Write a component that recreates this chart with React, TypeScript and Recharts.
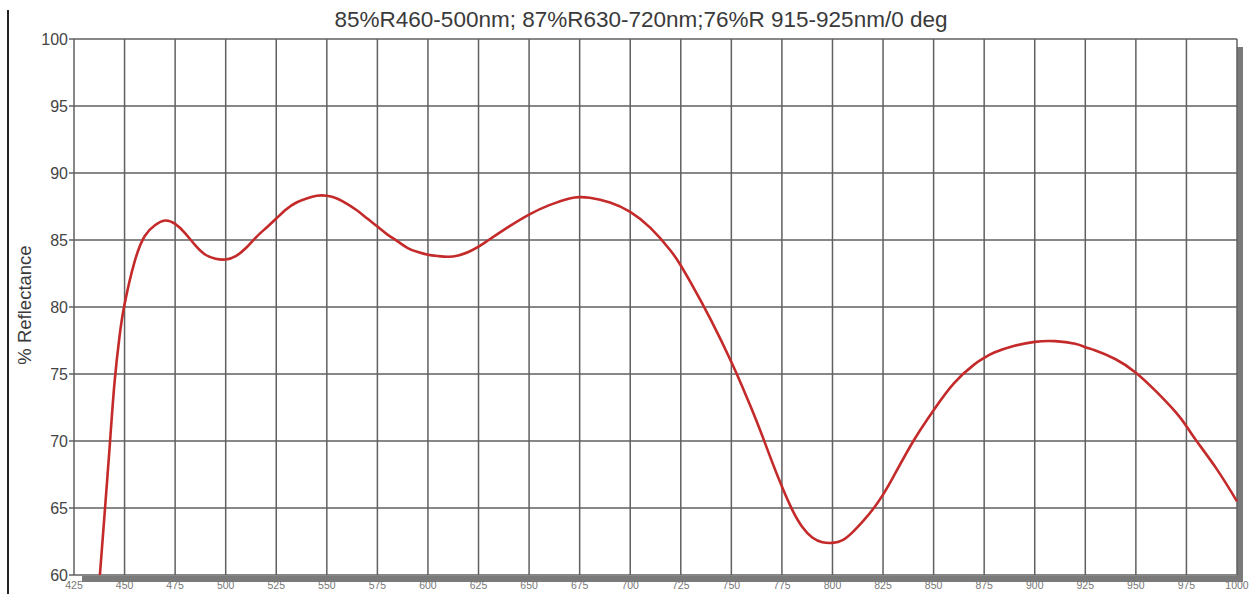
import { LineChart, Line, XAxis, YAxis, CartesianGrid } from "recharts";

// wavelength (nm) and % reflectance
const wavelengths = [
  437.8, 440, 442.5, 445, 447.5, 450, 455, 460, 465, 470, 475, 480, 485, 490, 495, 500,
  505, 510, 515, 520, 525, 530, 535, 540, 545, 550, 555, 560, 565, 570, 575, 580, 585,
  590, 595, 600, 605, 610, 615, 620, 625, 630, 640, 650, 660, 670, 675, 680, 690, 700,
  710, 720, 725, 730, 740, 750, 755, 760, 765, 770, 775, 780, 785, 790, 795, 800, 805,
  810, 815, 820, 825, 830, 840, 850, 860, 870, 875, 880, 890, 900, 910, 920, 925, 930,
  940, 950, 960, 970, 975, 980, 990, 1000,
];
const reflectance = [
  60, 64.3, 69.3, 74.3, 77.8, 80.2, 83.4, 85.3, 86.1, 86.45, 86.2, 85.5, 84.6, 83.9, 83.6, 83.55,
  83.8, 84.4, 85.2, 85.9, 86.6, 87.3, 87.8, 88.1, 88.3, 88.3, 88.1, 87.7, 87.2, 86.6, 86.0, 85.4, 84.9,
  84.4, 84.1, 83.9, 83.8, 83.75, 83.85, 84.1, 84.5, 85.0, 86.0, 86.9, 87.6, 88.1, 88.2, 88.15, 87.8, 87.1,
  85.9, 84.2, 83.1, 81.8, 79.0, 75.9, 74.2, 72.4, 70.5, 68.5, 66.6, 64.9, 63.6, 62.8, 62.45, 62.4, 62.6,
  63.2, 64.0, 64.9, 66.0, 67.3, 70.0, 72.3, 74.3, 75.7, 76.2, 76.6, 77.1, 77.4, 77.45, 77.25, 77.0, 76.75,
  76.1, 75.1, 73.7, 72.1, 71.1, 70.0, 67.9, 65.5,
];

const xTicks = [425, 450, 475, 500, 525, 550, 575, 600, 625, 650, 675, 700, 725, 750, 775, 800, 825, 850, 875, 900, 925, 950, 975, 1000];
const yTicks = [60, 65, 70, 75, 80, 85, 90, 95, 100];

const title = "85%R460-500nm; 87%R630-720nm;76%R 915-925nm/0 deg";
const yLabel = "% Reflectance";

const data = wavelengths.map((wl, i) => ({ wl, r: reflectance[i] }));

const font = "Arial, 'Liberation Sans', sans-serif";

export default function App() {
  return (
    <div style={{ position: "absolute", left: 0, top: 0, width: 1252, height: 594, background: "#fff", overflow: "hidden", fontFamily: font }}>
      {/* frame left edge */}
      <div style={{ position: "absolute", left: 7, top: 10, width: 2, height: 584, background: "#222" }} />
      {/* drop shadow under and right of plot */}
      <div style={{ position: "absolute", left: 82, top: 576, width: 1161, height: 6, background: "#7a7a7a" }} />
      <div style={{ position: "absolute", left: 1237, top: 47, width: 6, height: 535, background: "#7a7a7a" }} />
      <div style={{ position: "absolute", left: 0, top: 7, width: 1282, textAlign: "center", fontSize: 22.5, lineHeight: "26px", color: "#3a3a3a" }}>{title}</div>
      <div
        style={{
          position: "absolute",
          left: 25,
          top: 305,
          transform: "translate(-50%, -50%) rotate(-90deg)",
          fontSize: 18.5,
          color: "#3a3a3a",
          whiteSpace: "nowrap",
        }}
      >
        {yLabel}
      </div>
      <LineChart width={1252} height={594} data={data} margin={{ top: 39, right: 15, left: 0, bottom: 0 }} style={{ position: "absolute", left: 0, top: 0 }}>
        <CartesianGrid stroke="#606060" strokeWidth={1.5} />
        <XAxis
          dataKey="wl"
          type="number"
          domain={[425, 1000]}
          ticks={xTicks}
          interval={0}
          height={19}
          axisLine={false}
          tickLine={false}
          tickSize={4}
          tickMargin={3}
          tick={{ fill: "#777", fontSize: 10.5, fontFamily: font }}
        />
        <YAxis
          type="number"
          domain={[60, 100]}
          ticks={yTicks}
          interval={0}
          width={74}
          axisLine={false}
          tickSize={5}
          tickMargin={1}
          tickLine={{ stroke: "#606060", strokeWidth: 1.5 }}
          tick={{ fill: "#444", fontSize: 16, fontFamily: font }}
        />
        <Line type="natural" dataKey="r" stroke="#c42a2a" strokeWidth={2.6} dot={false} isAnimationActive={false} />
      </LineChart>
    </div>
  );
}
